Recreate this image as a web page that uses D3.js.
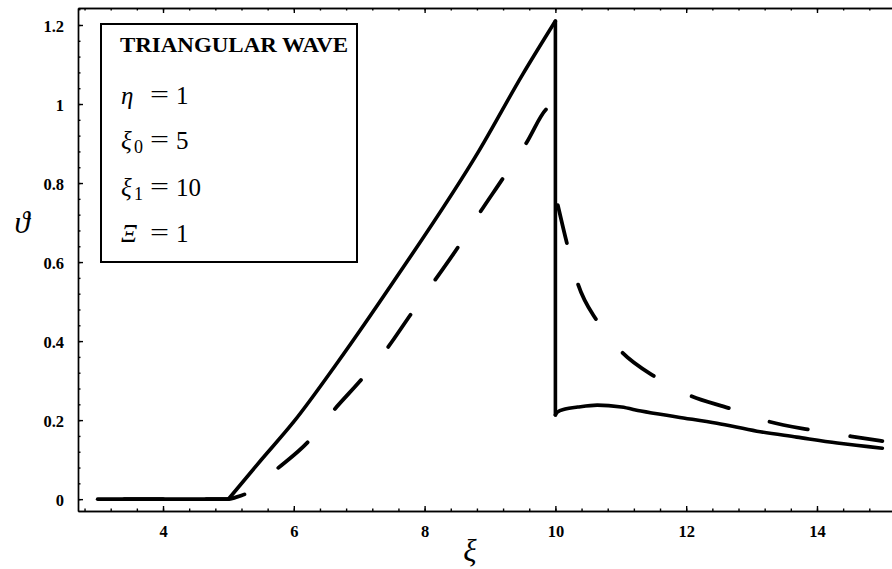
<!DOCTYPE html>
<html>
<head>
<meta charset="utf-8">
<script src="https://cdn.jsdelivr.net/npm/d3@7"></script>
<style>
  body { margin: 0; background: #fff; }
  svg { display: block; }
  .tick text { font-family: "Liberation Serif", "Times New Roman", serif; font-weight: bold; font-size: 16.5px; fill: #000; }
  .domain, .tick line { stroke: #000; stroke-width: 1.4; }
</style>
</head>
<body>
<div class="chart"></div>
<script>
// values
const flatXi = [3, 4, 5];
const flatTheta = [0, 0, 0];
const riseXi = [5, 5.5, 6, 6.66, 7.51, 8.84, 9.5, 10];
const riseTheta = [0, 0.099, 0.196, 0.344, 0.547, 0.884, 1.075, 1.21];
const decayXi = [10, 10.03, 10.15, 10.34, 10.64, 11.01, 11.31, 11.86, 12.47, 13.08, 13.69, 14.31, 15];
const decayTheta = [0.213, 0.22, 0.228, 0.233, 0.238, 0.233, 0.223, 0.208, 0.192, 0.172, 0.157, 0.142, 0.129];

const dashUpXi = [3, 5, 5.1, 5.28, 5.5, 5.74, 6.24, 6.6, 7.04, 7.42, 7.79, 8.14, 8.5, 8.84, 9.19, 9.55, 9.88, 10];
const dashUpTheta = [0, 0, 0.004, 0.015, 0.043, 0.076, 0.149, 0.223, 0.304, 0.38, 0.468, 0.55, 0.635, 0.724, 0.81, 0.9, 0.99, 1.0];
const dashDownXi = [10.03, 10.18, 10.34, 10.64, 11, 11.53, 12.06, 12.66, 13.27, 13.91, 14.52, 15];
const dashDownTheta = [0.749, 0.645, 0.547, 0.45, 0.375, 0.309, 0.262, 0.23, 0.196, 0.175, 0.159, 0.147];

const xTickValues = [4, 6, 8, 10, 12, 14];
const xTickLabels = ["4", "6", "8", "10", "12", "14"];
const yTickValues = [0, 0.2, 0.4, 0.6, 0.8, 1, 1.2];
const yTickLabels = ["0", "0.2", "0.4", "0.6", "0.8", "1", "1.2"];

const legendTitle = "TRIANGULAR WAVE";
const legendRows = [
    { sym: "η", sub: "", val: "1" },
    { sym: "ξ", sub: "0", val: "5" },
    { sym: "ξ", sub: "1", val: "10" },
    { sym: "Ξ", sub: "", val: "1" }
];

const W = 892, H = 569;
const plotLeft = 78, plotTop = 8, plotBottom = 511;

const svg = d3.select(".chart").append("svg").attr("width", W).attr("height", H);

const x = d3.scaleLinear().domain([2.7, 15.3]).range([plotLeft, 902]);
const y = d3.scaleLinear().domain([-0.03, 1.243]).range([plotBottom, plotTop]);

const minorX = d3.range(2.8, 15.3, 0.4);
const minorY = d3.range(0, 1.243, 0.04);

// bottom axis
svg.append("g").attr("transform", `translate(0,${plotBottom})`)
    .call(d3.axisBottom(x).tickValues(minorX).tickSize(-2.5).tickSizeOuter(0).tickFormat(""));
svg.append("g").attr("transform", `translate(0,${plotBottom})`)
    .call(d3.axisBottom(x).tickValues(xTickValues).tickSize(-5).tickSizeOuter(0).tickPadding(14)
        .tickFormat((d, i) => xTickLabels[i]));

// top axis
svg.append("g").attr("transform", `translate(0,${plotTop})`)
    .call(d3.axisTop(x).tickValues(minorX).tickSize(-2.5).tickSizeOuter(0).tickFormat(""));
svg.append("g").attr("transform", `translate(0,${plotTop})`)
    .call(d3.axisTop(x).tickValues(xTickValues).tickSize(-5).tickSizeOuter(0).tickFormat(""));

// left axis
svg.append("g").attr("transform", `translate(${plotLeft},0)`)
    .call(d3.axisLeft(y).tickValues(minorY).tickSize(-2.5).tickSizeOuter(0).tickFormat(""));
svg.append("g").attr("transform", `translate(${plotLeft},0)`)
    .call(d3.axisLeft(y).tickValues(yTickValues).tickSize(-5).tickSizeOuter(0).tickPadding(14)
        .tickFormat((d, i) => yTickLabels[i]))
    .selectAll("text").attr("dy", "0.4em");

// curves
const pairs = (xs, ys) => xs.map((d, i) => [d, ys[i]]);
const flat = pairs(flatXi, flatTheta);
const rise = pairs(riseXi, riseTheta);
const decay = pairs(decayXi, decayTheta);
const dashUp = pairs(dashUpXi, dashUpTheta);
const dashDown = pairs(dashDownXi, dashDownTheta);
const smooth = d3.line().x(d => x(d[0])).y(d => y(d[1])).curve(d3.curveMonotoneX);
const straight = d3.line().x(d => x(d[0])).y(d => y(d[1]));

const solidStyle = p => p.attr("fill", "none").attr("stroke", "#000").attr("stroke-width", 3.6)
    .attr("stroke-linejoin", "round").attr("stroke-linecap", "round");
svg.append("path").datum(flat).attr("d", straight).call(solidStyle);
svg.append("path").datum(rise).attr("d", smooth).call(solidStyle);
svg.append("path").datum([rise[rise.length - 1], decay[0]]).attr("d", straight).call(solidStyle);
svg.append("path").datum(decay).attr("d", smooth).call(solidStyle);

// dashed curve; the rising part is phased so that a dash begins at xi = 5.74
const dashOn = 39, dashOff = 43, period = dashOn + dashOff;
const dashStyle = p => p.attr("fill", "none").attr("stroke", "#000").attr("stroke-width", 3.8)
    .attr("stroke-linecap", "round").attr("stroke-linejoin", "round")
    .attr("stroke-dasharray", `${dashOn},${dashOff}`);

const upPath = svg.append("path").datum(dashUp).attr("d", smooth).call(dashStyle);
const node = upPath.node();
let lo = 0, hi = node.getTotalLength();
while (hi - lo > 0.2) {
    const mid = (lo + hi) / 2;
    if (node.getPointAtLength(mid).x < x(5.74)) lo = mid; else hi = mid;
}
const startLen = lo + 2;
upPath.attr("stroke-dashoffset", ((-startLen % period) + period) % period);

svg.append("path").datum(dashDown).attr("d", smooth).call(dashStyle)
    .attr("stroke-dashoffset", -2);

// legend box
const lg = svg.append("g").attr("font-family", "Liberation Serif, serif");
lg.append("rect").attr("x", 101).attr("y", 24).attr("width", 256).attr("height", 238)
    .attr("fill", "#fff").attr("stroke", "#000").attr("stroke-width", 2);
lg.append("text").attr("x", 120).attr("y", 52)
    .attr("font-size", 21).attr("font-weight", "bold")
    .attr("textLength", 228).attr("lengthAdjust", "spacingAndGlyphs")
    .text(legendTitle);

const rowBase = [104, 149, 196, 242];
legendRows.forEach((r, i) => {
    const t = lg.append("text").attr("y", rowBase[i]).attr("font-size", 25);
    t.append("tspan").attr("x", 121).attr("font-style", "italic").text(r.sym);
    if (r.sub) t.append("tspan").attr("x", 134).attr("dy", 4).attr("font-size", 18).text(r.sub);
    lg.append("text").attr("x", 150).attr("y", rowBase[i] - 1).attr("font-size", 25)
        .attr("textLength", 19).attr("lengthAdjust", "spacingAndGlyphs").text("=");
    lg.append("text").attr("x", 176).attr("y", rowBase[i]).attr("font-size", 25).text(r.val);
});

// axis labels
svg.append("text").attr("x", 22).attr("y", 233).attr("text-anchor", "middle")
    .attr("font-family", "Liberation Serif, serif").attr("font-style", "italic").attr("font-size", 31)
    .text("ϑ");
svg.append("text").attr("x", 470).attr("y", 561).attr("text-anchor", "middle")
    .attr("font-family", "Liberation Serif, serif").attr("font-style", "italic").attr("font-size", 31)
    .text("ξ");
</script>
</body>
</html>
